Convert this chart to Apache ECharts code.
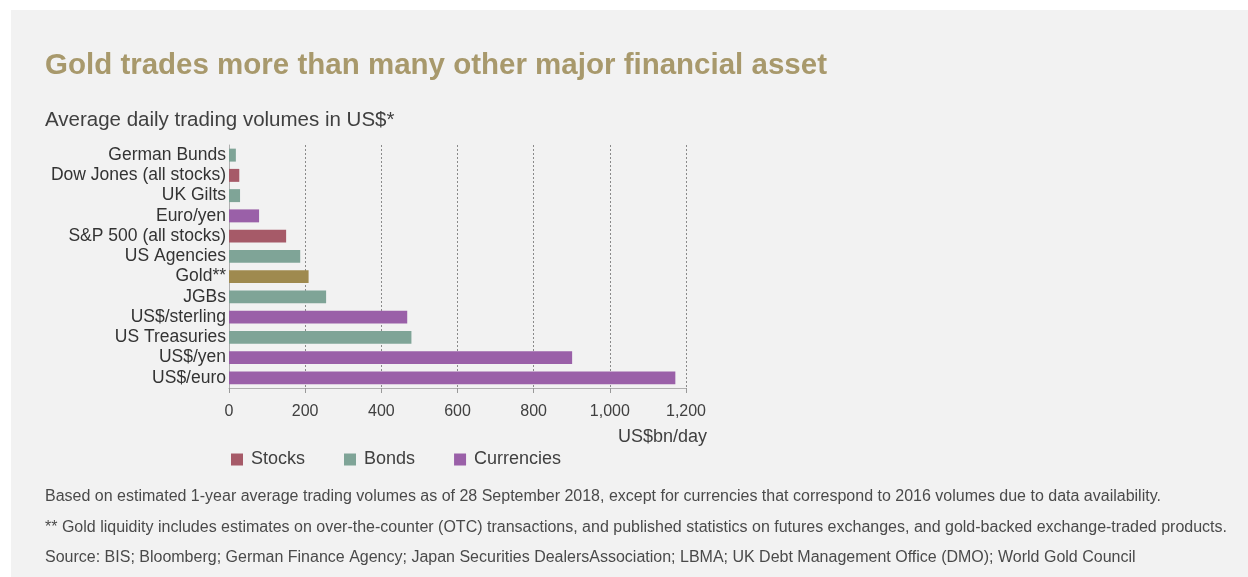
<!DOCTYPE html>
<html>
	<head>
		<title>Gold trading volumes</title>
		<script src="https://cdn.jsdelivr.net/npm/echarts@6/dist/echarts.min.js"></script>
	</head>
	<body style="margin:0;padding:0;background:#fff">
		<div id="main" style="width: 1248px;height:577px;"></div>
	</body>
	<script type="text/javascript">
var myChart = echarts.init(document.getElementById('main'));

// categories top to bottom
var categories = ['German Bunds', 'Dow Jones (all stocks)', 'UK Gilts', 'Euro/yen', 'S&P 500 (all stocks)',
    'US Agencies', 'Gold**', 'JGBs', 'US$/sterling', 'US Treasuries', 'US$/yen', 'US$/euro'];
var groups = ['Bonds', 'Stocks', 'Bonds', 'Currencies', 'Stocks',
    'Bonds', 'Gold', 'Bonds', 'Currencies', 'Bonds', 'Currencies', 'Currencies'];
var volumes = [18, 27, 29, 79, 150, 187, 209, 255, 468, 479, 901, 1172];
var groupNames = ['Stocks', 'Bonds', 'Currencies', 'Gold'];
var colorList = {Stocks: '#a65a68', Bonds: '#7fa497', Currencies: '#9a60a8', Gold: '#9f8a4f'};
var notes = [
    'Based on estimated 1-year average trading volumes as of 28 September 2018, except for currencies that correspond to 2016 volumes due to data availability.',
    '** Gold liquidity includes estimates on over-the-counter (OTC) transactions, and published statistics on futures exchanges, and gold-backed exchange-traded products.',
    'Source: BIS; Bloomberg; German Finance Agency; Japan Securities DealersAssociation; LBMA; UK Debt Management Office (DMO); World Gold Council'
];

var font = 'Liberation Sans, Arial, sans-serif';

var series = groupNames.map(function(g) {
    return {
        name: g,
        type: 'bar',
        stack: 'all',
        barCategoryGap: '36%',
        itemStyle: {color: colorList[g]},
        data: volumes.map(function(v, i) { return groups[i] === g ? v : '-'; })
    };
});

var titles = [{
    text: 'Gold trades more than many other major financial asset',
    left: 45, top: 40, padding: 0,
    textStyle: {fontFamily: font, fontSize: 29.5, fontWeight: 'bold', color: '#a8996c'}
}, {
    text: 'Average daily trading volumes in US$*',
    left: 45, top: 103, padding: 0,
    textStyle: {fontFamily: font, fontSize: 20.5, fontWeight: 'normal', color: '#404040'}
}, {
    text: 'US$bn/day',
    left: 618, top: 422, padding: 0,
    textStyle: {fontFamily: font, fontSize: 18, fontWeight: 'normal', color: '#404040'}
}];
notes.forEach(function(t, i) {
    titles.push({
        text: t,
        left: 45, top: 483 + i * 30.5, padding: 0,
        textStyle: {fontFamily: font, fontSize: 16, fontWeight: 'normal', color: '#4a4a4a'}
    });
});

option = {
    backgroundColor: '#fff',
    textStyle: {fontFamily: font},
    graphic: [{
        type: 'rect',
        z: -10,
        shape: {x: 11, y: 10, width: 1237, height: 567},
        style: {fill: '#f2f2f2'}
    }],
    title: titles,
    legend: {
        data: ['Stocks', 'Bonds', 'Currencies'],
        left: 231, top: 444, padding: 0,
        icon: 'rect',
        itemWidth: 12, itemHeight: 12,
        itemGap: 39,
        textStyle: {fontFamily: font, fontSize: 18, color: '#404040', padding: [0, 0, 0, 3]}
    },
    grid: {left: 229, right: 562, top: 145, bottom: 189, containLabel: false},
    xAxis: {
        type: 'value',
        min: 0, max: 1200, interval: 200,
        axisLine: {show: true, lineStyle: {color: '#b0b0b0'}},
        axisTick: {show: true, length: 5, lineStyle: {color: '#999'}},
        axisLabel: {
            fontFamily: font, fontSize: 16, color: '#404040', margin: 10,
            formatter: function(v) { return v.toLocaleString('en-US'); }
        },
        splitLine: {show: true, lineStyle: {color: '#8a8a8a', type: [2, 2], width: 1}}
    },
    yAxis: {
        type: 'category',
        inverse: true,
        data: categories,
        axisLine: {show: true, lineStyle: {color: '#b0b0b0'}},
        axisTick: {show: false},
        axisLabel: {fontFamily: font, fontSize: 17.5, color: '#333', margin: 3, interval: 0}
    },
    series: series
};
myChart.setOption(option);
	</script>
</html>
